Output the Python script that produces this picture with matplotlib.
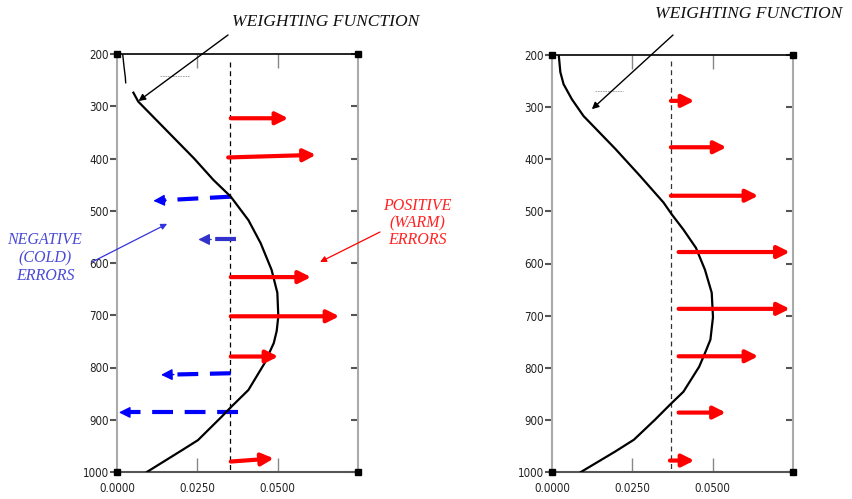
import matplotlib
matplotlib.use("Agg")
import matplotlib.pyplot as plt

# Prepare Data
# weighting function, left panel (pressure hPa, weight)
left_p = [274, 291, 400, 441, 473, 518, 562, 613, 657, 702, 730, 753, 791, 843, 875, 894, 939, 958, 1000]
left_w = [0.0051, 0.0066, 0.0240, 0.0300, 0.0354, 0.0409, 0.0447, 0.0481, 0.0499, 0.0502, 0.0497,
          0.0488, 0.0460, 0.0409, 0.0356, 0.0326, 0.0252, 0.0203, 0.0093]
left_top_p = [202, 225, 245, 255]
left_top_w = [0.0018, 0.0022, 0.0026, 0.0027]

# weighting function, right panel
right_p = [200, 233, 256, 285, 317, 380, 432, 483, 506, 535, 570, 612, 656, 703, 746, 769, 798,
           846, 871, 900, 938, 961, 1000]
right_w = [0.0021, 0.0026, 0.0036, 0.0062, 0.0098, 0.0197, 0.0274, 0.0347, 0.0373, 0.0409, 0.0448,
           0.0476, 0.0497, 0.0501, 0.0493, 0.0478, 0.0458, 0.0409, 0.0367, 0.0320, 0.0255, 0.0196, 0.0090]

# warm (positive) error arrows, left panel
left_warm_p0 = [323, 398, 627, 702, 779, 980]
left_warm_p1 = [323, 393, 627, 702, 779, 974]
left_warm_x0 = [0.0354, 0.0346, 0.0354, 0.0354, 0.0354, 0.0354]
left_warm_x1 = [0.0533, 0.0619, 0.0604, 0.0692, 0.0502, 0.0488]

# cold (negative) error arrows, left panel
left_cold_p0 = [473, 555, 811, 886]
left_cold_p1 = [481, 555, 814, 886]
left_cold_x0 = [0.0354, 0.0369, 0.0354, 0.0377]
left_cold_x1 = [0.0113, 0.0253, 0.0137, 0.0006]
left_cold_col = ['#0000ff', '#3333cc', '#0000ff', '#0000ff']

# warm error arrows, right panel
right_warm_p = [288, 377, 470, 578, 687, 778, 886, 978]
right_warm_x0 = [0.0370, 0.0370, 0.0370, 0.0394, 0.0394, 0.0394, 0.0394, 0.0367]
right_warm_x1 = [0.0443, 0.0543, 0.0642, 0.0740, 0.0740, 0.0642, 0.0541, 0.0443]

left_ref = 0.0352
right_ref = 0.0370

yticks = [200, 300, 400, 500, 600, 700, 800, 900, 1000]
xticks = [0.0, 0.025, 0.05]
xticklabels = ['0.0000', '0.0250', '0.0500']

W, H = 853, 499
fig = plt.figure(figsize=(W / 100, H / 100), dpi=100, facecolor='white')


def fpos(x, y):
    # pixel position from the top left -> figure fraction
    return (x / W, 1 - y / H)


tickfont = ['DejaVu Sans']
serif = ['Liberation Serif', 'DejaVu Serif']


def setup_axes(rect):
    ax = fig.add_axes(rect)
    ax.set_xlim(0, 0.075)
    ax.set_ylim(1000, 200)
    ax.set_yticks(yticks)
    ax.set_yticklabels([str(v) for v in yticks], family=tickfont, fontsize=8.3,
                       fontstretch='condensed', color='#222222')
    ax.set_xticks(xticks)
    ax.set_xticklabels(xticklabels, family=tickfont, fontsize=8.3,
                       fontstretch='condensed', color='#222222')
    ax.tick_params(axis='y', direction='out', length=5, width=1.5, color='#555555', pad=1)
    ax.tick_params(axis='y', which='both', right=True, labelright=False)
    ax.tick_params(axis='x', direction='in', length=10, width=1, color='#888888', top=True, pad=7)
    for lab in ax.get_xticklines()[::2][:1] + ax.get_xticklines()[1::2][:1]:
        lab.set_visible(False)
    ax.spines['top'].set_color('black')
    ax.spines['top'].set_linewidth(1.2)
    ax.spines['bottom'].set_color('#555555')
    ax.spines['bottom'].set_linewidth(1.5)
    for s in ['left', 'right']:
        ax.spines[s].set_color('#aaaaaa')
        ax.spines[s].set_linewidth(1.5)
    # corner markers
    ax.plot([0, 0.075, 0, 0.075], [200, 200, 1000, 1000], 's', color='black', ms=4,
            clip_on=False, zorder=5)
    return ax


def warm_arrow(ax, x0, x1, p0, p1):
    ax.annotate('', xy=(x1, p1), xytext=(x0, p0),
                arrowprops=dict(arrowstyle='-|>', color='red', lw=3, mutation_scale=18,
                                shrinkA=0, shrinkB=0), annotation_clip=False)


ax1 = setup_axes([117 / W, 1 - 472 / H, 241 / W, 418 / H])
ax2 = setup_axes([552 / W, 1 - 472 / H, 241 / W, 417 / H])

# right-side ticks point inward
for ax in (ax1, ax2):
    for t in ax.yaxis.get_major_ticks():
        t.tick2line.set_marker(0)
        t.tick2line.set_markersize(5)

# Left panel
ax1.plot(left_w, left_p, color='black', lw=1.6, zorder=3)
ax1.plot(left_top_w, left_top_p, color='black', lw=1.0, zorder=3)
ax1.plot([0.0134, 0.0227], [242, 242], color='#999999', lw=0.6, ls=(0, (2, 1)))
ax1.plot([left_ref, left_ref], [215, 1000], color='black', lw=0.9, ls=(0, (4, 3)))
for x0, x1, p0, p1 in zip(left_warm_x0, left_warm_x1, left_warm_p0, left_warm_p1):
    warm_arrow(ax1, x0, x1, p0, p1)
for x0, x1, p0, p1, c in zip(left_cold_x0, left_cold_x1, left_cold_p0, left_cold_p1, left_cold_col):
    # dashed shaft, then a solid head
    hx = x1 + 0.0035
    hp = p1 + (p0 - p1) * 0.0035 / (x0 - x1)
    ax1.plot([x0, hx], [p0, hp], color=c, lw=3, ls=(0, (5, 2.8)), solid_capstyle='butt',
             dash_capstyle='butt', clip_on=False)
    ax1.annotate('', xy=(x1, p1), xytext=(hx + 0.0005, hp),
                 arrowprops=dict(arrowstyle='-|>', color=c, lw=1, mutation_scale=17,
                                 shrinkA=0, shrinkB=0), annotation_clip=False)

# Right panel
ax2.plot(right_w, right_p, color='black', lw=1.6, zorder=3)
ax2.plot([0.0135, 0.0222], [270, 270], color='#999999', lw=0.6, ls=(0, (2, 1)))
ax2.plot([right_ref, right_ref], [212, 1000], color='#333333', lw=0.9, ls=(0, (4, 3)))
for x0, x1, p in zip(right_warm_x0, right_warm_x1, right_warm_p):
    warm_arrow(ax2, x0, x1, p, p)

# Annotations
fig.text(*fpos(232, 22), 'WEIGHTING FUNCTION', family=serif, style='italic', fontsize=12.6,
         ha='left', va='center', color='#111111')
fig.text(*fpos(655, 14), 'WEIGHTING FUNCTION', family=serif, style='italic', fontsize=12.6,
         ha='left', va='center', color='#111111')
ax1.annotate('', xy=(0.0067, 290), xycoords='data', xytext=fpos(228, 35),
             textcoords='figure fraction',
             arrowprops=dict(arrowstyle='-|>', color='black', lw=1, mutation_scale=10,
                             shrinkA=0, shrinkB=0), annotation_clip=False)
ax2.annotate('', xy=(0.0124, 304), xycoords='data', xytext=fpos(673, 35),
             textcoords='figure fraction',
             arrowprops=dict(arrowstyle='-|>', color='black', lw=1, mutation_scale=10,
                             shrinkA=0, shrinkB=0), annotation_clip=False)

fig.text(*fpos(45, 258), 'NEGATIVE\n(COLD)\nERRORS', family=serif, style='italic', fontsize=11.5,
         ha='center', va='center', color='#4a4ad8', linespacing=1.15)
ax1.annotate('', xy=(0.0156, 525), xycoords='data', xytext=fpos(92, 262),
             textcoords='figure fraction',
             arrowprops=dict(arrowstyle='-|>', color='#3333dd', lw=0.9, mutation_scale=9,
                             shrinkA=0, shrinkB=0), annotation_clip=False)

fig.text(*fpos(417, 223), 'POSITIVE\n(WARM)\nERRORS', family=serif, style='italic', fontsize=11.5,
         ha='center', va='center', color='#ff2222', linespacing=1.1)
ax1.annotate('', xy=(0.0632, 598), xycoords='data', xytext=fpos(380, 232),
             textcoords='figure fraction',
             arrowprops=dict(arrowstyle='-|>', color='red', lw=0.9, mutation_scale=9,
                             shrinkA=0, shrinkB=0), annotation_clip=False)

fig.savefig('out.png', dpi=100, facecolor='white')
